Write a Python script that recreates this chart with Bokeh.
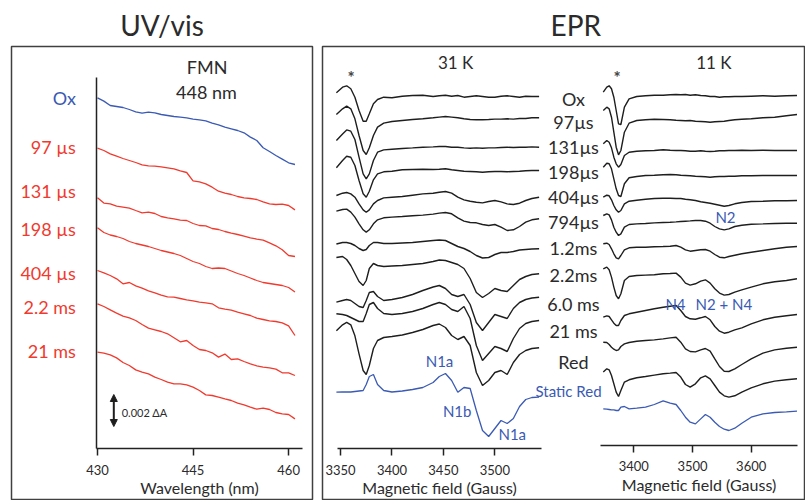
from bokeh.plotting import figure
from bokeh.layouts import row
from bokeh.models import Range1d, LinearAxis, FixedTicker, Label, Arrow, NormalHead
from bokeh.embed import file_html
from bokeh.resources import INLINE

FONT = "Lato"
TXT = "#2b2b2b"
BLUE = "#3a5ab4"
RED = "#f03a2e"
BLACK = "#1e1e1e"

# ---------------- UV/vis data (relative absorbance, a.u.; 32 units = 0.002 dA) ----------------
UV_WL = [430, 431, 432, 433, 434, 435, 436, 437, 438, 439, 440, 441, 442, 443, 444, 445,
         446, 447, 448, 449, 450, 451, 452, 453, 454, 455, 456, 457, 458, 459, 460, 461]
UV_LABELS = ["Ox", "97 \u00b5s", "131 \u00b5s", "198 \u00b5s", "404 \u00b5s", "2.2 ms", "21 ms"]
UV_OFFSETS = [398.7, 348.3, 298.7, 268.7, 226.0, 192.7, 144.3]
UV_OX = [0, -3.3, -7.7, -8.7, -9.7, -11.7, -14, -15.3, -14.3, -15, -16.7, -17.7, -18.7, -19.3, -20, -21.3,
         -22, -23, -25.3, -27, -29.3, -31, -32.7, -35, -39.3, -42.7, -50, -53.7, -57.7, -61.3, -65, -66.7]
UV_97 = [0, -2.3, -5.7, -8, -10.3, -12.3, -14.3, -16.7, -17.7, -18, -18.7, -19.7, -20.7, -22.7, -24.3, -32.7,
         -33.7, -35.7, -39, -43, -45, -46.3, -48.3, -49.7, -50.3, -51.3, -53.7, -55.7, -56.3, -56, -57.3, -61.7]
UV_131 = [0, -5.3, -6, -8.3, -9.3, -10.3, -12.7, -15, -14.3, -15.7, -18.7, -20, -21, -22.3, -22.7, -25.7,
          -27.7, -28, -30.7, -31.7, -33.7, -35.3, -36.7, -38.3, -40, -41.3, -42.3, -45, -48, -52, -57.7, -58.7]
UV_198 = [0, -4.7, -7.2, -8.7, -10.7, -13.7, -15.7, -17.2, -18.7, -20.7, -22.7, -24.2, -25.7, -27.7, -30.7, -33.7,
          -35.7, -38.7, -40.7, -40.2, -40.7, -43.2, -45.7, -47.7, -50.2, -52.7, -54.7, -55.7, -56.7, -57.7, -59.7, -64.2]
UV_404 = [0, -2.3, -5, -8.3, -13.3, -12, -15.3, -17.7, -20.3, -22.3, -24.7, -26.3, -26.7, -28, -29.3, -30.3,
          -31.7, -32.3, -33.3, -37.3, -38.7, -39.7, -41.7, -43.3, -45, -47.7, -49, -50.3, -51, -52.3, -55.3, -65]
UV_2200 = [0, -2.7, -6, -9.3, -12.3, -14, -16.7, -20.7, -24.3, -26, -27.7, -30, -34, -38, -36.7, -41.7,
           -45.7, -46.7, -49, -53.3, -50.3, -55.7, -55, -57.7, -60, -62, -63.3, -64, -65.3, -69, -69, -71.7]
UV_21000 = [0, -1, -2.7, -5.7, -10.3, -13.3, -17.7, -20, -21.7, -25, -27.3, -30, -31.7, -31.7, -32.7, -35,
            -38.3, -42.7, -43.3, -45, -46.7, -48.3, -51, -52.7, -55, -57, -56, -57.3, -60.3, -61.7, -62.3, -66.7]
UV_TRACES = [UV_OX, UV_97, UV_131, UV_198, UV_404, UV_2200, UV_21000]
UV_SCALE_BAR = 32  # a.u. equal to 0.002 dA

# ---------------- EPR 31 K data (derivative signal, a.u.) ----------------
K31_FIELD = [3346, 3352, 3356, 3360, 3364, 3368, 3372, 3375, 3378, 3382, 3386, 3392, 3400, 3410, 3420, 3430, 3440,
             3446, 3452, 3458, 3464, 3470, 3476, 3482, 3488, 3494, 3500, 3506, 3512, 3518, 3524, 3530, 3536, 3543]
K31_OFFSETS = [400, 378.7, 349.3, 326, 299.3, 277.7, 247.7, 222.7, 199.3, 176, 148.7, 99.3]
K31_OX = [3.7, 9.3, 10.7, 7.7, -0.7, -14, -24.7, -24.7, -17.3, -7.3, -3, -0.7, -1.3, 0.3, 1, 1.3, 0,
          0.7, 1.3, 0.3, 1, -0.7, 0, 0.7, 0, -0.7, -0.7, 0.3, 0.7, 0, -0.7, 0.3, 0, 0]
K31_97 = [3.3, 9, 11.7, 9, -1, -17.7, -32.7, -36.7, -30, -17.7, -9.3, -5.3, -3.7, -2.7, -1.7, -1, 0,
          0.7, 1.3, 0.7, 0, -1, -1.7, -2, -2, -1.7, -1.3, -1.3, -1, -1.3, -0.7, -0.7, 0, 0]
K31_131 = [6.7, 13.3, 17.3, 16, 7.7, -10, -26.7, -31.7, -26.7, -13.3, -5, -2.7, -2, -1.3, -0.7, 0, 0.3,
           0.7, 0.7, 0, 0, -0.7, -1, -0.7, -1, -0.7, -0.7, -0.3, 0, -0.3, 0, 0, 0.3, 0]
K31_198 = [2.7, 10, 14.3, 13.3, 5, -10, -23.3, -26.7, -20.7, -9.3, -3.3, -1.3, -0.7, 0.7, 1, 1.3, 1,
           1.3, 1.7, 0.7, 0, -0.7, -1, -1.3, -1.7, -1.3, -1, -1, -1.3, -1, -0.7, -0.3, 0, 0]
K31_404 = [1.7, 4, 4.7, 3.3, 0, -6.7, -12.7, -15, -12.7, -6.7, -3.3, -0.7, 0, 0.7, 2, 3.3, 4,
           5, 5.7, 4, 0, -2.7, -4, -5, -5.7, -4.3, -3.3, -4.7, -6.7, -7.3, -6, -3.3, -1.3, 0]
K31_794 = [7.7, 9.3, 9.7, 6.7, 1.7, -5, -11, -13.3, -11, -5, -1, 1, 1.7, 2.3, 3, 3.7, 4.7,
           5.7, 6.3, 5, 1, -2.3, -3.7, -4, -5.7, -6.7, -5.7, -8.3, -11.7, -11, -7.7, -3.3, -1, 0]
K31_1200 = [4.8, 6.3, 6.3, 5.3, 3.3, 0.3, -1.7, -0.7, 3.3, 6.3, 6.3, 5.3, 5.3, 5.8, 6.3, 7.3, 8.3,
            8.8, 8.3, 5.3, 2.3, 0.3, -2.7, -6.7, -9.2, -8.7, -5.7, -3.7, -3.7, -2.7, -1.2, -0.7, -0.2, 0]
K31_2200 = [16.3, 17.3, 14.3, 8.3, 0.3, -7.7, -11.7, -6.7, 5.3, 10.3, 8.3, 7.3, 7.8, 8.3, 9.3, 10.3, 12.3,
            13.8, 13.3, 11.3, 9.3, 5.3, -4.7, -18.7, -23.7, -19.7, -14.7, -16.7, -17.7, -11.7, -5.7, -2.7, -0.7, 0]
K31_6000 = [-5, -3.3, -2.3, -3.3, -6.3, -9.3, -10.3, -3.3, 4.7, 5.7, 0.7, -3.3, -2.3, -0.3, 2.7, 6.7, 10.2,
            11.7, 8.7, 2.7, 0.7, 2.7, -7.3, -25.3, -33.3, -25.3, -17.3, -19.3, -21.3, -11.3, -5.3, -2.3, -0.8, 0]
K31_21000 = [6.7, 6, 5, 3, 1, -1, -1, 7, 16, 18, 12, 7, 6, 7, 9, 12, 16,
             18, 16, 11, 9, 14, 2, -25, -40, -33, -26, -28, -31, -18, -8, -3, -1, 0]
K31_RED = [17, 23, 25.5, 23, 12, -6, -22.7, -26.7, -17.7, -0.7, 7.3, 10.3, 11.3, 12.8, 15.3, 18.3, 22.3,
           23.8, 20.3, 12.3, 8.3, 11.3, 2.3, -24.7, -37.7, -32.7, -24.7, -22.7, -26.7, -14.7, -6.7, -2.7, -0.7, 0]
K31_STATIC = [5, 5.2, 5.2, 5.2, 5.7, 6.2, 6.7, 12.7, 20.7, 22.7, 12.7, 6.7, 5.2, 6.2, 7.7, 9.7, 14.7,
              20.7, 23.7, 16.7, 5, 9.7, 8.7, -13.3, -33.3, -39.3, -31.3, -23.3, -26.3, -21.3, -9.3, -2.3, -0.3, 0]
K31_TRACES = [K31_OX, K31_97, K31_131, K31_198, K31_404, K31_794, K31_1200, K31_2200,
              K31_6000, K31_21000, K31_RED, K31_STATIC]

# ---------------- EPR 11 K data (derivative signal, a.u.) ----------------
K11_FIELD = [3348, 3354, 3358, 3362, 3366, 3370, 3374, 3378, 3384, 3392, 3405, 3420, 3435, 3450, 3462, 3472, 3480,
             3488, 3496, 3505, 3514, 3522, 3530, 3538, 3546, 3554, 3562, 3572, 3584, 3600, 3620, 3640, 3660, 3678]
K11_OFFSETS = [401, 382, 346, 321, 296, 273.3, 250, 217.7, 182, 149.3, 117.7, 85.3]
K11_OX = [3.3, 8.3, 9.7, 6.7, -1.7, -15, -28.3, -29, -11.7, -3.3, -1, -0.3, 0.3, 0.3, 0.7, 1, 0.7,
          1, 0.3, 0.7, 0, -0.3, -1, -1, -1.7, -1.3, -1.3, -1, -1, -0.7, -0.3, -0.7, -0.3, 0]
K11_97 = [4, 7.3, 5.7, -2.7, -17.7, -32.7, -40.3, -36, -17.7, -8.7, -6, -5.3, -4.7, -5, -5.3, -5.7, -6,
          -6.3, -6, -6.7, -7, -7.3, -7.7, -7.3, -7, -6.7, -6, -5.3, -4.7, -4.3, -3.3, -2.7, -1.3, 0]
K11_131 = [6.7, 10, 8.3, 2.7, -6.7, -13.3, -16.7, -14, -5, -1.7, -0.7, -0.3, 0, 0.7, 0.3, 0, 0,
           -0.3, -0.7, -0.7, -0.3, -0.7, -1, -0.7, -0.3, -0.3, 0, 0, 0.3, 0, 0.3, 0, 0, 0]
K11_198 = [8.3, 12.3, 11.7, 6.7, -3.3, -13.3, -20, -21, -8.3, -2.3, -1, 0, 0.3, 0.7, 1, 0.7, 0.3,
           0, -0.3, -0.7, -1, -1.3, -1.7, -1.3, -1, -1, -0.7, -0.7, -0.3, -0.3, 0, 0, 0, 0]
K11_404 = [3.3, 5.3, 4.7, 0.7, -5, -9.3, -11.7, -10, -3.3, -0.7, 0.3, 1.3, 2, 2.3, 2.3, 2, 2,
           1.3, 0.7, 0, -1.3, -2, -2.7, -3.7, -4.7, -5.7, -5, -3.3, -2, -1, -0.7, -0.3, -0.3, 0]
K11_794 = [7.7, 9.3, 8.3, 3.3, -4, -9, -12.3, -10.7, -4, -1.3, -0.7, -0.3, 0.3, 0.7, 1, 1.3, 1.7,
           2, 2.3, 2.7, 2.7, 2, 0, -3.3, -5.7, -6.7, -5.7, -3.3, -2, -1, -0.7, -0.3, 0, 0]
K11_1200 = [2.7, 3.3, 2, -2.3, -7.3, -11.3, -12.3, -9, -3.3, -1.3, -0.7, -0.7, -0.3, 0, 0.3, 1, -0.7,
            -3.3, -4.7, -4, -3.3, -3, -4.7, -8, -10.7, -11.3, -10, -8.7, -7.3, -5.7, -4, -2.3, -0.7, 0]
K11_2200 = [10, 11.7, 9, 1.7, -8.3, -16.7, -20, -15, -1.7, 2.3, 3.3, 3.7, 4, 5, 5.3, 5.7, 1.7,
            -4.3, -6.3, -5, -2.3, -1, -4.3, -10, -14.3, -16.3, -15.7, -13.3, -11, -8.3, -5, -3, -1.7, 0]
K11_6000 = [-2.7, -1.3, -2, -5.3, -8.7, -11, -11, -6, -1, 0.7, 2.3, 4, 5.7, 7.3, 8.3, 9, 4,
            -2, -4.3, -4.7, -3.3, -2, -5.3, -12, -16.7, -18.7, -17.7, -15.3, -13.3, -9.3, -5.3, -2.7, -1.3, 0]
K11_21000 = [5, 4.7, 2.7, 0, -2, -3.3, -2.7, 0.7, 3.3, 4.7, 6, 6.7, 7.3, 8.3, 9.3, 10, 5,
             -1.7, -4.3, -4.7, -2.7, -1.3, -4, -11.7, -19.3, -24, -24.3, -21.7, -17.3, -11.7, -6, -2.7, -1, 0]
K11_RED = [6.7, 10, 9, 3.3, -5, -13.3, -17.7, -11.7, -3.3, -1, 1, 2.3, 3.7, 5, 5.7, 6.3, 1.7,
           -5.7, -8.3, -5, 1, 3, 0, -6.7, -13.3, -17, -18.3, -17, -13.3, -9, -5, -2.3, -1, 0]
K11_STATIC = [2.3, 2, 1.7, 1.3, 1.3, 0.7, 0.7, 4, 4.7, 2.3, 3, 4, 6.7, 10.3, 8, 6.7, 0.7,
              -6, -11, -12.7, -7.7, -3.3, -6, -11, -15.3, -18, -19.3, -17, -12, -6, -2.7, -1.3, -0.7, 0]
K11_TRACES = [K11_OX, K11_97, K11_131, K11_198, K11_404, K11_794, K11_1200, K11_2200,
              K11_6000, K11_21000, K11_RED, K11_STATIC]

EPR_LABELS = ["Ox", "97\u00b5s", "131\u00b5s", "198\u00b5s", "404\u00b5s", "794\u00b5s",
              "1.2ms", "2.2ms", "6.0 ms", "21 ms", "Red"]

# ---------------- layout constants (positions, not data) ----------------
UV_LABEL_Y = [398.7, 349.3, 305.3, 267.7, 223.3, 189.3, 146.0]
EPR_LABEL_Y = [397.7, 374.3, 349.3, 324.3, 299.3, 274.3, 248.7, 222.0, 192.7, 165.3, 134.3]


def style_axis(ax):
    ax.axis_line_width = 1.5
    ax.axis_line_color = "#222222"
    ax.major_tick_line_color = "#222222"
    ax.major_tick_line_width = 1.5
    ax.major_tick_out = 7
    ax.major_tick_in = 0
    ax.minor_tick_out = 0
    ax.minor_tick_in = 0
    ax.major_label_text_font = FONT
    ax.major_label_text_font_size = "13px"
    ax.major_label_text_color = TXT
    ax.major_label_standoff = 9
    ax.axis_label_text_font = FONT
    ax.axis_label_text_font_size = "16px"
    ax.axis_label_text_font_style = "normal"
    ax.axis_label_text_color = TXT
    ax.axis_label_standoff = 0


def add_label(p, x, y, text, size="18px", color=TXT, align="center", rng=None, style="normal"):
    kw = {}
    if rng:
        kw["x_range_name"] = rng
    p.add_layout(Label(x=x, y=y, text=text, text_font=FONT, text_font_size=size, text_font_style=style,
                       text_color=color, text_align=align, text_baseline="middle", **kw))


H = 500

# ================= UV/vis panel =================
pa = figure(width=316, height=H, output_backend="svg", toolbar_location=None,
            x_range=Range1d(416.5, 463.75), y_range=Range1d(-4, 450),
            x_axis_type=None, y_axis_type=None,
            min_border_left=11, min_border_right=4, min_border_top=46, min_border_bottom=0)
pa.title.text = "UV/vis"
pa.title.align = "center"
pa.title.text_font = FONT
pa.title.text_font_size = "28px"
pa.title.text_font_style = "normal"
pa.title.text_color = TXT
pa.outline_line_color = "#404040"
pa.outline_line_width = 1.5

xa = LinearAxis(fixed_location=48, bounds=(429.9, 462.2),
                ticker=FixedTicker(ticks=[430, 445, 460]), axis_label="Wavelength (nm)")
style_axis(xa)
pa.add_layout(xa, "below")
ya = LinearAxis(fixed_location=429.9, bounds=(48, 419), ticker=FixedTicker(ticks=[]))
style_axis(ya)
ya.major_label_text_font_size = "0px"
pa.add_layout(ya, "left")

for i, (tr, off) in enumerate(zip(UV_TRACES, UV_OFFSETS)):
    col = BLUE if i == 0 else RED
    pa.line(UV_WL, [off + v for v in tr], line_color=col, line_width=1.3)
    add_label(pa, 426.6, UV_LABEL_Y[i], UV_LABELS[i], size="18px", color=col, align="right")

add_label(pa, 447.2, 430, "FMN", size="18px")
add_label(pa, 447.1, 404.3, "448 nm", size="18px")
bar_y0 = 70
pa.add_layout(Arrow(start=NormalHead(size=7, fill_color=BLACK, line_color=BLACK),
                    end=NormalHead(size=7, fill_color=BLACK, line_color=BLACK),
                    x_start=432.56, y_start=bar_y0, x_end=432.56, y_end=bar_y0 + UV_SCALE_BAR,
                    line_width=2, line_color=BLACK))
add_label(pa, 433.8, 84, "0.002 \u0394A", size="11px", align="left")

# ================= EPR panel =================
pb = figure(width=489, height=H, output_backend="svg", toolbar_location=None,
            x_range=Range1d(3332.5, 3801.9), y_range=Range1d(-4, 450),
            x_axis_type=None, y_axis_type=None,
            min_border_left=6, min_border_right=0, min_border_top=46, min_border_bottom=0)
pb.extra_x_ranges = {"k11": Range1d(2869.7, 3692.5)}
pb.title.text = "EPR"
pb.title.align = "left"
pb.title.offset = 228
pb.title.text_font = FONT
pb.title.text_font_size = "28px"
pb.title.text_font_style = "normal"
pb.title.text_color = TXT
pb.outline_line_color = "#404040"
pb.outline_line_width = 1.5

ax31 = LinearAxis(fixed_location=47.7, bounds=(3347, 3545),
                  ticker=FixedTicker(ticks=[3350, 3400, 3450, 3500]), axis_label="Magnetic field (Gauss)")
style_axis(ax31)
pb.add_layout(ax31, "below")
ax11 = LinearAxis(x_range_name="k11", fixed_location=51.5, bounds=(3344, 3679),
                  ticker=FixedTicker(ticks=[3400, 3500, 3600]), axis_label="Magnetic field (Gauss)")
style_axis(ax11)
pb.add_layout(ax11, "below")

n = len(K31_TRACES)
for i, (tr, off) in enumerate(zip(K31_TRACES, K31_OFFSETS)):
    col = BLUE if i == n - 1 else BLACK
    pb.line(K31_FIELD, [off + v for v in tr], line_color=col, line_width=1.4 if i < n - 1 else 1.3)
for i, (tr, off) in enumerate(zip(K11_TRACES, K11_OFFSETS)):
    col = BLUE if i == n - 1 else BLACK
    pb.line(K11_FIELD, [off + v for v in tr], line_color=col, line_width=1.4 if i < n - 1 else 1.3,
            x_range_name="k11")

for lab, ly in zip(EPR_LABELS, EPR_LABEL_Y):
    add_label(pb, 3576.4, ly, lab, size="18px")
add_label(pb, 3571.6, 106, "Static Red", size="15px", color=BLUE)

add_label(pb, 3461.8, 434.3, "31 K", size="17px")
add_label(pb, 3360.4, 419, "*", size="17px", color="#444444", style="bold")
add_label(pb, 3536.3, 434.3, "11 K", size="17px", rng="k11")
add_label(pb, 3371.7, 419, "*", size="17px", color="#444444", rng="k11", style="bold")

add_label(pb, 3446.2, 136, "N1a", size="15px", color=BLUE)
add_label(pb, 3463.4, 86, "N1b", size="15px", color=BLUE)
add_label(pb, 3516.9, 62.7, "N1a", size="15px", color=BLUE)
add_label(pb, 3556.2, 279.3, "N2", size="15px", color=BLUE, rng="k11")
add_label(pb, 3471.0, 192.7, "N4", size="15px", color=BLUE, rng="k11")
add_label(pb, 3553.3, 192.7, "N2 + N4", size="15px", color=BLUE, rng="k11")

layout = row(pa, pb)
open("out.html", "w").write(file_html(layout, INLINE))
